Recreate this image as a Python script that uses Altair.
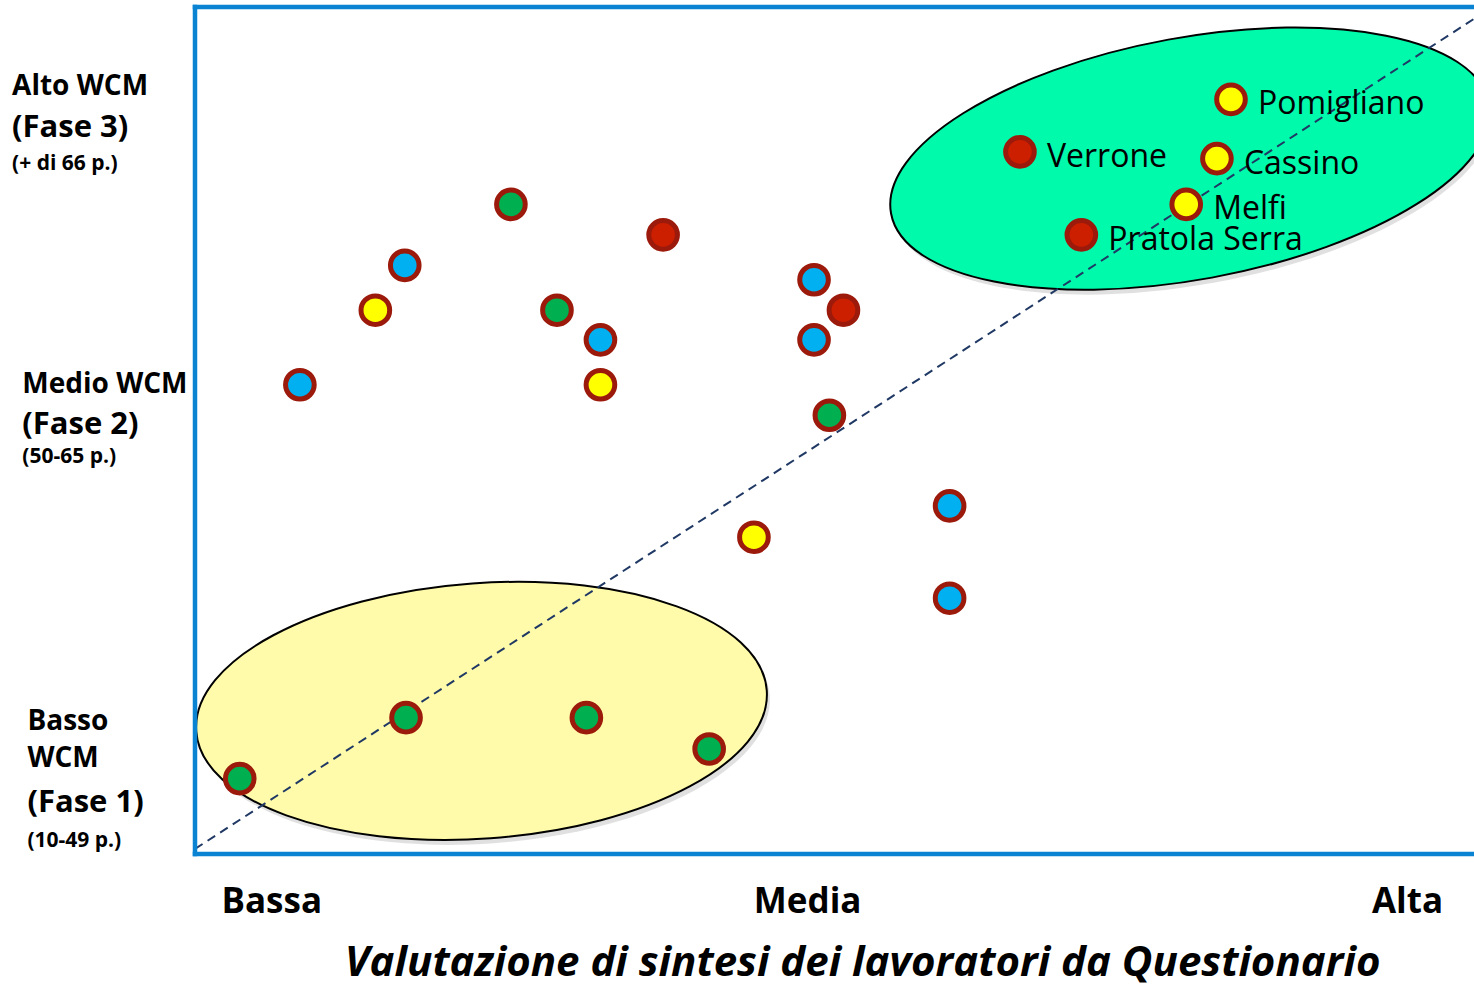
import altair as alt
import pandas as pd

# ---- data (scale 0-100 on both axes) ----
pt_name = ["Pomigliano", "Verrone", "Cassino", "Melfi", "Pratola Serra",
           "", "", "", "", "", "", "", "", "", "", "", "", "", "", "", "", "", "", ""]
pt_x = [81.0, 64.5, 79.9, 77.5, 69.3,
        24.7, 36.6, 16.4, 48.4, 14.1, 28.3, 50.7, 31.7, 48.4, 8.2, 31.7,
        49.6, 59.0, 43.7, 59.0, 16.5, 30.6, 40.2, 3.5]
pt_y = [89.1, 82.9, 82.1, 76.7, 73.1,
        76.7, 73.1, 69.5, 67.8, 64.2, 64.2, 64.2, 60.7, 60.7, 55.4, 55.4,
        51.8, 41.1, 37.4, 30.2, 16.1, 16.1, 12.4, 8.9]
pt_cat = ["giallo", "rosso", "giallo", "giallo", "rosso",
          "verde", "rosso", "blu", "blu", "giallo", "verde", "rosso", "blu", "blu", "blu", "giallo",
          "verde", "blu", "giallo", "blu", "verde", "verde", "verde", "verde"]

cat_domain = ["giallo", "verde", "blu", "rosso"]
cat_range = ["#ffff00", "#00b050", "#00b0f0", "#cc1f00"]

# groups (ellipses): centres
grp_x = [77.8, 22.4]
grp_y = [82.1, 16.9]

# diagonal reference line
diag_x = [0, 100]
diag_y = [0.6, 98.6]

# frame of the plot area
frame_x = [0, 0, 0]
frame_x2 = [0, 100, 100]
frame_y = [0, 100, 0]
frame_y2 = [100, 100, 0]

# level labels (left side)
lvl_text = ["Alto WCM", "(Fase 3)", "(+ di 66 p.)",
            "Medio WCM", "(Fase 2)", "(50-65 p.)",
            "Basso", "WCM", "(Fase 1)", "(10-49 p.)"]
lvl_kind = ["nome", "fase", "punti", "nome", "fase", "punti", "nome", "nome", "fase", "punti"]
lvl_x = [-14.3, -14.3, -14.3, -13.5, -13.5, -13.5, -13.1, -13.1, -13.1, -13.1]
lvl_y = [89.6, 84.7, 80.8, 54.4, 49.6, 46.2, 14.6, 10.3, 5.0, 0.8]

# x category labels
xcat_text = ["Bassa", "Media", "Alta"]
xcat_x = [6.0, 47.9, 94.8]
xcat_y = [-7.0, -7.0, -7.0]

title_text = ["Valutazione di sintesi dei lavoratori da Questionario"]
title_x = [52.2]
title_y = [-14.4]

# ---- tables ----
pts = pd.DataFrame({"x": pt_x, "y": pt_y, "cat": pt_cat, "name": pt_name})
grp = pd.DataFrame({"x": grp_x, "y": grp_y})
diag = pd.DataFrame({"x": diag_x, "y": diag_y})
frame = pd.DataFrame({"x": frame_x, "x2": frame_x2, "y": frame_y, "y2": frame_y2})
lvl = pd.DataFrame({"x": lvl_x, "y": lvl_y, "text": lvl_text, "kind": lvl_kind})
xcat = pd.DataFrame({"x": xcat_x, "y": xcat_y, "text": xcat_text})
ttl = pd.DataFrame({"x": title_x, "y": title_y, "text": title_text})

X = alt.X("x:Q", scale=alt.Scale(domain=[0, 100], nice=False, zero=False), axis=None)
Y = alt.Y("y:Q", scale=alt.Scale(domain=[0, 100], nice=False, zero=False), axis=None)

FONT = "Open Sans"

green_path = "M -1 0 A 1 0.398 0 1 1 1 0 A 1 0.398 0 1 1 -1 0 Z"
yellow_path = "M -1 0 A 1 0.4465 0 1 1 1 0 A 1 0.4465 0 1 1 -1 0 Z"

green_ell = grp.iloc[[0]]
yellow_ell = grp.iloc[[1]]

shadow_g = alt.Chart(green_ell).mark_point(
    shape=green_path, size=369664, angle=349.6, filled=True, fill="#000000",
    opacity=0.12, strokeWidth=0, xOffset=3, yOffset=5
).encode(x=X, y=Y)
ell_g = alt.Chart(green_ell).mark_point(
    shape=green_path, size=369664, angle=349.6, filled=True, fill="#00faac",
    stroke="#000000", strokeWidth=2, opacity=1
).encode(x=X, y=Y)

shadow_y = alt.Chart(yellow_ell).mark_point(
    shape=yellow_path, size=327184, angle=355.9, filled=True, fill="#000000",
    opacity=0.12, strokeWidth=0, xOffset=3, yOffset=5
).encode(x=X, y=Y)
ell_y = alt.Chart(yellow_ell).mark_point(
    shape=yellow_path, size=327184, angle=355.9, filled=True, fill="#fffbaa",
    stroke="#000000", strokeWidth=2, opacity=1
).encode(x=X, y=Y)

diag_line = alt.Chart(diag).mark_line(
    color="#1f3864", strokeWidth=2, strokeDash=[9, 6]
).encode(x=X, y=Y)

frame_rules = alt.Chart(frame).mark_rule(
    color="#0a84d2", strokeWidth=4.5, strokeCap="square"
).encode(x=X, x2="x2:Q", y=Y, y2="y2:Q")

points = alt.Chart(pts).mark_circle(
    size=820, stroke="#9c1a0b", strokeWidth=5, opacity=1
).encode(
    x=X, y=Y,
    color=alt.Color("cat:N", scale=alt.Scale(domain=cat_domain, range=cat_range), legend=None),
)

pt_labels = alt.Chart(pts).mark_text(
    align="left", baseline="alphabetic", dx=27, dy=15, font=FONT, fontSize=32, color="#000000"
).encode(x=X, y=Y, text="name:N")

lvl_nome = alt.Chart(lvl).transform_filter(alt.datum.kind == "nome").mark_text(
    align="left", baseline="alphabetic", font=FONT, fontWeight="bold", fontSize=28, color="#000000"
).encode(x=X, y=Y, text="text:N")
lvl_fase = alt.Chart(lvl).transform_filter(alt.datum.kind == "fase").mark_text(
    align="left", baseline="alphabetic", font=FONT, fontWeight="bold", fontSize=31, color="#000000"
).encode(x=X, y=Y, text="text:N")
lvl_punti = alt.Chart(lvl).transform_filter(alt.datum.kind == "punti").mark_text(
    align="left", baseline="alphabetic", font=FONT, fontWeight="bold", fontSize=21, color="#000000"
).encode(x=X, y=Y, text="text:N")

xcat_labels = alt.Chart(xcat).mark_text(
    align="center", baseline="alphabetic", font=FONT, fontWeight="bold", fontSize=35, color="#000000"
).encode(x=X, y=Y, text="text:N")

title = alt.Chart(ttl).mark_text(
    align="center", baseline="alphabetic", font=FONT, fontWeight="bold", fontStyle="italic",
    fontSize=42, color="#000000"
).encode(x=X, y=Y, text="text:N")

chart = alt.layer(
    shadow_y, ell_y, shadow_g, ell_g, diag_line, frame_rules, points, pt_labels,
    lvl_nome, lvl_fase, lvl_punti, xcat_labels, title
).properties(
    width=1279, height=847,
    padding={"left": 195, "top": 7, "right": 0, "bottom": 132},
    autosize="none",
    background="#ffffff",
).configure_view(strokeWidth=0)

chart.save("out.html", embed_options={"renderer": "svg", "actions": False})
